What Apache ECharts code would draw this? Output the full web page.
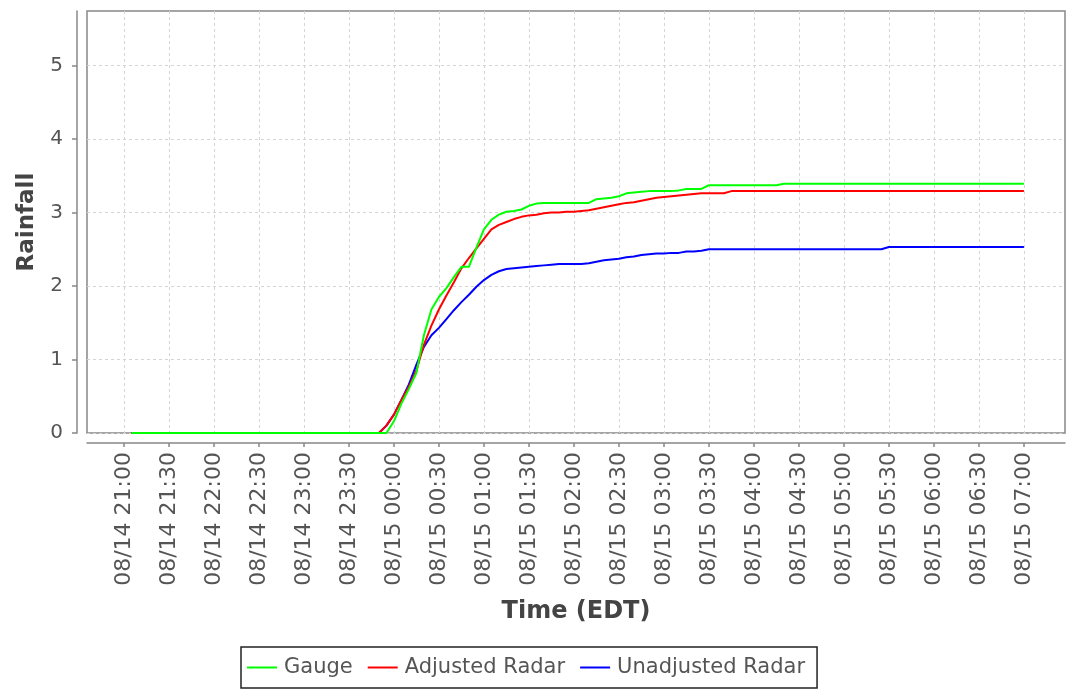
<!DOCTYPE html>
<html>
<head>
<meta charset="utf-8">
<script src="https://cdn.jsdelivr.net/npm/echarts@6/dist/echarts.min.js"></script>
<style>
html,body{margin:0;padding:0;background:#fff;}
#chart{width:1067px;height:690px;}
</style>
</head>
<body>
<div id="chart"></div>
<script>
// ---- data ----
const times = ['08/14 21:05','08/14 23:45','08/14 23:50','08/14 23:55','08/15 00:00','08/15 00:05','08/15 00:10','08/15 00:15','08/15 00:20','08/15 00:25','08/15 00:30','08/15 00:35','08/15 00:40','08/15 00:45','08/15 00:50','08/15 00:55','08/15 01:00','08/15 01:05','08/15 01:10','08/15 01:15','08/15 01:20','08/15 01:25','08/15 01:30','08/15 01:35','08/15 01:40','08/15 01:45','08/15 01:50','08/15 01:55','08/15 02:00','08/15 02:05','08/15 02:10','08/15 02:15','08/15 02:20','08/15 02:25','08/15 02:30','08/15 02:35','08/15 02:40','08/15 02:45','08/15 02:50','08/15 02:55','08/15 03:00','08/15 03:05','08/15 03:10','08/15 03:15','08/15 03:20','08/15 03:25','08/15 03:30','08/15 03:35','08/15 03:40','08/15 03:45','08/15 04:15','08/15 04:20','08/15 05:25','08/15 05:30','08/15 07:00'];
const gauge = [0,0,0,0,0.16,0.40,0.60,0.82,1.33,1.68,1.85,1.97,2.12,2.26,2.26,2.52,2.77,2.90,2.97,3.01,3.02,3.04,3.09,3.12,3.13,3.13,3.13,3.13,3.13,3.13,3.13,3.18,3.19,3.20,3.22,3.26,3.27,3.28,3.29,3.29,3.29,3.29,3.30,3.32,3.32,3.32,3.37,3.37,3.37,3.37,3.37,3.39,3.39,3.39,3.39];
const adjusted = [0,0,0,0.10,0.25,0.45,0.63,0.85,1.20,1.46,1.68,1.87,2.05,2.24,2.38,2.51,2.64,2.77,2.83,2.87,2.91,2.94,2.96,2.97,2.99,3.00,3.00,3.01,3.01,3.02,3.03,3.05,3.07,3.09,3.11,3.13,3.14,3.16,3.18,3.20,3.21,3.22,3.23,3.24,3.25,3.26,3.26,3.26,3.26,3.29,3.29,3.29,3.29,3.29,3.29];
const unadjusted = [0,0,0,0.10,0.25,0.45,0.66,0.93,1.17,1.33,1.43,1.55,1.67,1.78,1.88,1.99,2.08,2.15,2.20,2.23,2.24,2.25,2.26,2.27,2.28,2.29,2.30,2.30,2.30,2.30,2.31,2.33,2.35,2.36,2.37,2.39,2.40,2.42,2.43,2.44,2.44,2.45,2.45,2.47,2.47,2.48,2.50,2.50,2.50,2.50,2.50,2.50,2.50,2.53,2.53];
const xTickLabels = ['08/14 21:00','08/14 21:30','08/14 22:00','08/14 22:30','08/14 23:00','08/14 23:30','08/15 00:00','08/15 00:30','08/15 01:00','08/15 01:30','08/15 02:00','08/15 02:30','08/15 03:00','08/15 03:30','08/15 04:00','08/15 04:30','08/15 05:00','08/15 05:30','08/15 06:00','08/15 06:30','08/15 07:00'];
const yTicks = [0,1,2,3,4,5];
const seriesNames = ['Gauge','Adjusted Radar','Unadjusted Radar'];

// minutes since 08/14 21:00
function toMin(s){
  const parts = s.split(' ');
  const day = parseInt(parts[0].split('/')[1],10);
  const hm = parts[1].split(':');
  return (day-14)*1440 + parseInt(hm[0],10)*60 + parseInt(hm[1],10) - 21*60;
}
const xTickVals = xTickLabels.map(toMin);
const labelByVal = {};
xTickLabels.forEach((l,i)=>{ labelByVal[xTickVals[i]] = l; });
const pts = arr => times.map((t,i)=>[toMin(t), arr[i]]);

const FONT = 'DejaVu Sans';
const chart = echarts.init(document.getElementById('chart'), null, {renderer:'canvas'});
chart.setOption({
  backgroundColor:'#fff',
  animation:false,
  grid:{left:87,right:2,top:11,bottom:257,show:true,borderColor:'#888',borderWidth:1.5,backgroundColor:'#fff'},
  xAxis:{
    type:'value', min:-24.6, max:627.4, offset:10,
    name:'Time (EDT)', nameLocation:'middle', nameGap:157,
    nameTextStyle:{fontFamily:FONT,fontSize:24,fontWeight:'bold',color:'#444'},
    axisLine:{onZero:false,lineStyle:{color:'#888',width:1.5}},
    axisTick:{show:true,length:4,inside:false,customValues:xTickVals,lineStyle:{color:'#888',width:1.5}},
    axisLabel:{customValues:xTickVals,rotate:90,margin:9,fontFamily:FONT,fontSize:22,color:'#555',
      formatter:v=>labelByVal[v]!==undefined?labelByVal[v]:''},
    splitLine:{show:true,lineStyle:{color:'#d4d4d4',width:1,type:[3,3]}}
  },
  yAxis:{
    type:'value', min:0, max:5.74, offset:10,
    name:'Rainfall', nameLocation:'middle', nameGap:38, nameRotate:90,
    nameTextStyle:{fontFamily:FONT,fontSize:23,fontWeight:'bold',color:'#444'},
    axisLine:{show:true,onZero:false,lineStyle:{color:'#888',width:1.5}},
    axisTick:{show:true,length:5,customValues:yTicks,lineStyle:{color:'#888',width:1.5}},
    axisLabel:{customValues:yTicks,margin:14,fontFamily:FONT,fontSize:20,color:'#555'},
    splitLine:{show:true,lineStyle:{color:'#d4d4d4',width:1,type:[3,3]}}
  },
  legend:{
    data:seriesNames, left:241, bottom:2, orient:'horizontal',
    icon:'rect', itemWidth:30, itemHeight:2, itemGap:15,
    padding:[10,12,10,6], borderColor:'#222', borderWidth:1.5,
    textStyle:{fontFamily:FONT,fontSize:21,color:'#555',padding:[0,0,0,2]}
  },
  series:[
    {name:seriesNames[0],type:'line',data:pts(gauge),symbol:'none',color:'#00ff00',lineStyle:{width:2,color:'#00ff00'},z:5},
    {name:seriesNames[1],type:'line',data:pts(adjusted),symbol:'none',color:'#ff0000',lineStyle:{width:2,color:'#ff0000'},z:4},
    {name:seriesNames[2],type:'line',data:pts(unadjusted),symbol:'none',color:'#0000ff',lineStyle:{width:2,color:'#0000ff'},z:3}
  ]
});
</script>
</body>
</html>
